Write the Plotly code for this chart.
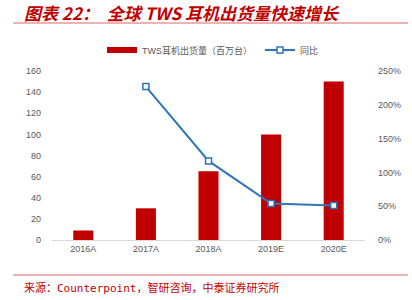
import plotly.graph_objects as go

categories = ["2016A", "2017A", "2018A", "2019E", "2020E"]
shipments = [9, 30, 65, 100, 150]
yoy = [None, 2.27, 1.17, 0.54, 0.51]
left_ticks = [0, 20, 40, 60, 80, 100, 120, 140, 160]
right_ticks = [0, 0.5, 1.0, 1.5, 2.0, 2.5]

RED = "#C00000"
BLUE = "#2E75B6"
GRAY = "#595959"
FONT = "Liberation Sans, Noto Sans CJK SC, sans-serif"

fig = go.Figure()
fig.add_trace(go.Bar(
    x=categories, y=shipments, name="TWS耳机出货量（百万台）", showlegend=False,
    marker=dict(color=RED, line=dict(width=0)), width=0.32, yaxis="y",
))
# legend entry drawn as a wide red swatch (as in the reference)
fig.add_trace(go.Scatter(
    x=[None], y=[None], name="TWS耳机出货量（百万台）", mode="lines",
    line=dict(color=RED, width=6), legend="legend", hoverinfo="skip",
))
fig.add_trace(go.Scatter(
    x=categories, y=yoy, name="同比", yaxis="y2", mode="lines+markers",
    line=dict(color=BLUE, width=2), legend="legend2",
    marker=dict(symbol="square", size=6, color="white", line=dict(color=BLUE, width=1.5)),
))

# plot area px: x 52..365, y 71..240
def px(x):
    return (x - 52) / 313.0

def py(y):
    return (240 - y) / 169.0

leg_common = dict(orientation="h", yanchor="middle", bgcolor="rgba(0,0,0,0)",
                  font=dict(size=9, color=GRAY, family=FONT), itemwidth=30)

fig.update_layout(
    width=412, height=300,
    margin=dict(l=52, r=47, t=71, b=60),
    paper_bgcolor="white", plot_bgcolor="white",
    font=dict(family=FONT, size=9, color=GRAY),
    showlegend=True,
    legend=dict(x=px(102), y=py(50), xanchor="left", **leg_common),
    legend2=dict(x=px(260), y=py(50), xanchor="left", **leg_common),
    xaxis=dict(showline=True, linecolor="#D9D9D9", linewidth=1, ticks="",
               showgrid=False, tickfont=dict(size=9, color=GRAY), fixedrange=True),
    yaxis=dict(range=[0, 160], tickvals=left_ticks, showgrid=False, zeroline=False,
               showline=False, ticks="", tickfont=dict(size=9, color=GRAY), ticklabelstandoff=10),
    yaxis2=dict(range=[0, 2.5], tickvals=right_ticks, tickformat=".0%", overlaying="y",
                side="right", showgrid=False, zeroline=False, showline=False, ticks="",
                tickfont=dict(size=9, color=GRAY), ticklabelstandoff=12),
    shapes=[
        dict(type="line", xref="paper", yref="paper", x0=px(13), x1=px(408), y0=py(23), y1=py(23),
             line=dict(color="#E06666", width=1)),
        dict(type="line", xref="paper", yref="paper", x0=px(13), x1=px(408), y0=py(275), y1=py(275),
             line=dict(color="#E06666", width=1)),
    ],
    annotations=[
        dict(text="<b><i>图表 22：  全球 TWS 耳机出货量快速增长</i></b>", xref="paper", yref="paper",
             x=px(22), y=py(12), xanchor="left", yanchor="middle", showarrow=False,
             font=dict(size=17, color=RED, family="Noto Sans CJK SC, sans-serif")),
        dict(text="来源：Counterpoint，智研咨询，中泰证券研究所", xref="paper", yref="paper",
             x=px(22), y=py(288), xanchor="left", yanchor="middle", showarrow=False,
             font=dict(size=11, color=RED, family="DejaVu Sans Mono, Noto Sans CJK SC, monospace")),
    ],
)

fig.write_html("out.html")
